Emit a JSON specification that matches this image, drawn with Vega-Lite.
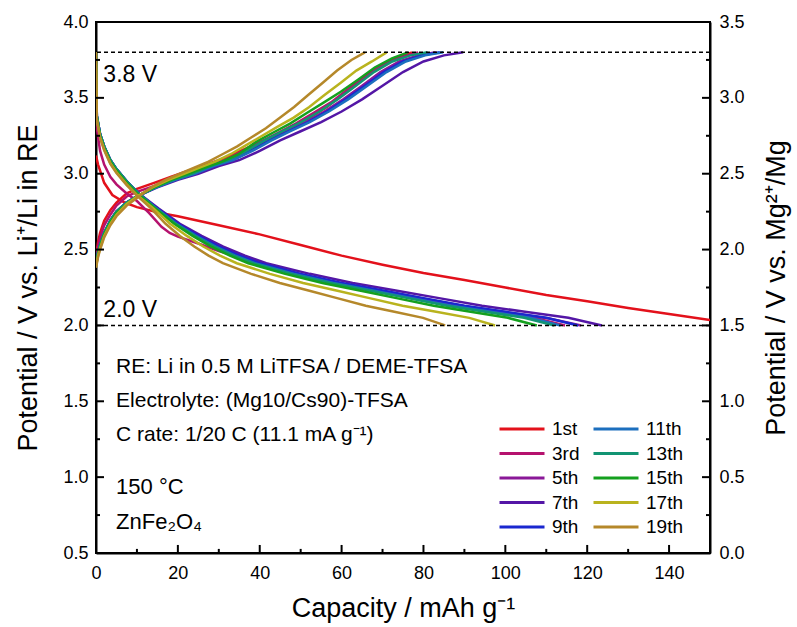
{
 "$schema": "https://vega.github.io/schema/vega-lite/v6.json",
 "width": 614,
 "height": 531,
 "autosize": {"type": "none"},
 "padding": {"left": 96, "top": 22, "right": 87, "bottom": 74},
 "background": "white",
 "config": {
  "view": {"stroke": "black", "strokeWidth": 2},
  "font": "Liberation Sans",
  "axis": {
   "grid": false,
   "ticks": false,
   "domainColor": "black",
   "domainWidth": 2,
   "labelFont": "Liberation Sans",
   "labelFontSize": 18,
   "labelColor": "black",
   "labelOverlap": false,
   "labelFlush": false,
   "titleFont": "Liberation Sans",
   "titleFontSize": 27,
   "titleFontWeight": "normal",
   "titleColor": "black"
  },
  "legend": {
   "orient": "none",
   "legendX": 402,
   "legendY": 397,
   "columns": 2,
   "symbolType": "stroke",
   "symbolSize": 2025,
   "symbolStrokeWidth": 3,
   "clipHeight": 20,
   "labelFont": "Liberation Sans",
   "labelFontSize": 19,
   "labelColor": "black",
   "labelOffset": 6,
   "columnPadding": 12,
   "rowPadding": 4.5
  }
 },
 "layer": [
  {
   "layer": [
    {
     "data": {"values": [
      {"c":"1st","t":"d","x":0,"y":3.12},{"c":"1st","t":"d","x":0.5,"y":3.06},{"c":"1st","t":"d","x":1,"y":3.02},{"c":"1st","t":"d","x":2,"y":2.94},{"c":"1st","t":"d","x":4,"y":2.86},{"c":"1st","t":"d","x":7,"y":2.81},{"c":"1st","t":"d","x":10,"y":2.78},{"c":"1st","t":"d","x":16,"y":2.74},{"c":"1st","t":"d","x":20,"y":2.72},{"c":"1st","t":"d","x":30,"y":2.66},{"c":"1st","t":"d","x":40,"y":2.6},{"c":"1st","t":"d","x":50,"y":2.53},{"c":"1st","t":"d","x":60,"y":2.46},{"c":"1st","t":"d","x":70,"y":2.4},{"c":"1st","t":"d","x":80,"y":2.345},{"c":"1st","t":"d","x":90,"y":2.3},{"c":"1st","t":"d","x":100,"y":2.25},{"c":"1st","t":"d","x":110,"y":2.2},{"c":"1st","t":"d","x":120,"y":2.16},{"c":"1st","t":"d","x":130,"y":2.115},{"c":"1st","t":"d","x":140,"y":2.075},{"c":"1st","t":"d","x":150,"y":2.035},
      {"c":"1st","t":"c","x":0,"y":2.45},{"c":"1st","t":"c","x":0.5,"y":2.55},{"c":"1st","t":"c","x":1,"y":2.61},{"c":"1st","t":"c","x":2,"y":2.69},{"c":"1st","t":"c","x":3.5,"y":2.76},{"c":"1st","t":"c","x":5,"y":2.81},{"c":"1st","t":"c","x":7.5,"y":2.87},{"c":"1st","t":"c","x":10,"y":2.9},{"c":"1st","t":"c","x":14.2,"y":2.94},{"c":"1st","t":"c","x":18.4,"y":2.98},{"c":"1st","t":"c","x":22.6,"y":3.02},{"c":"1st","t":"c","x":26.9,"y":3.06},{"c":"1st","t":"c","x":31.1,"y":3.1},{"c":"1st","t":"c","x":35.3,"y":3.15},{"c":"1st","t":"c","x":39.5,"y":3.2},{"c":"1st","t":"c","x":43.7,"y":3.25},{"c":"1st","t":"c","x":47.9,"y":3.31},{"c":"1st","t":"c","x":52.2,"y":3.37},{"c":"1st","t":"c","x":56.4,"y":3.44},{"c":"1st","t":"c","x":60.6,"y":3.53},{"c":"1st","t":"c","x":64.8,"y":3.62},{"c":"1st","t":"c","x":69.0,"y":3.7},{"c":"1st","t":"c","x":73.2,"y":3.76},{"c":"1st","t":"c","x":77.2,"y":3.8},
      {"c":"3rd","t":"d","x":0,"y":3.8},{"c":"3rd","t":"d","x":0.2,"y":3.3},{"c":"3rd","t":"d","x":1,"y":3.15},{"c":"3rd","t":"d","x":2,"y":3.06},{"c":"3rd","t":"d","x":3.5,"y":2.98},{"c":"3rd","t":"d","x":5,"y":2.93},{"c":"3rd","t":"d","x":7.5,"y":2.87},{"c":"3rd","t":"d","x":10,"y":2.82},{"c":"3rd","t":"d","x":13,"y":2.74},{"c":"3rd","t":"d","x":16,"y":2.65},{"c":"3rd","t":"d","x":18,"y":2.61},{"c":"3rd","t":"d","x":20,"y":2.585},{"c":"3rd","t":"d","x":25,"y":2.54},{"c":"3rd","t":"d","x":30,"y":2.49},{"c":"3rd","t":"d","x":35,"y":2.45},{"c":"3rd","t":"d","x":40,"y":2.4},{"c":"3rd","t":"d","x":48.8,"y":2.34},{"c":"3rd","t":"d","x":58.5,"y":2.28},{"c":"3rd","t":"d","x":68.2,"y":2.23},{"c":"3rd","t":"d","x":77.9,"y":2.18},{"c":"3rd","t":"d","x":87.6,"y":2.13},{"c":"3rd","t":"d","x":97.3,"y":2.09},{"c":"3rd","t":"d","x":107.0,"y":2.05},{"c":"3rd","t":"d","x":114.6,"y":2.0},
      {"c":"3rd","t":"c","x":0,"y":2.43},{"c":"3rd","t":"c","x":0.5,"y":2.52},{"c":"3rd","t":"c","x":1,"y":2.58},{"c":"3rd","t":"c","x":2,"y":2.66},{"c":"3rd","t":"c","x":3.5,"y":2.73},{"c":"3rd","t":"c","x":5,"y":2.79},{"c":"3rd","t":"c","x":7.5,"y":2.85},{"c":"3rd","t":"c","x":10,"y":2.88},{"c":"3rd","t":"c","x":14.3,"y":2.92},{"c":"3rd","t":"c","x":18.6,"y":2.97},{"c":"3rd","t":"c","x":22.9,"y":3.01},{"c":"3rd","t":"c","x":27.2,"y":3.05},{"c":"3rd","t":"c","x":31.6,"y":3.09},{"c":"3rd","t":"c","x":35.9,"y":3.15},{"c":"3rd","t":"c","x":40.2,"y":3.21},{"c":"3rd","t":"c","x":44.5,"y":3.27},{"c":"3rd","t":"c","x":48.8,"y":3.33},{"c":"3rd","t":"c","x":53.1,"y":3.4},{"c":"3rd","t":"c","x":57.4,"y":3.47},{"c":"3rd","t":"c","x":61.7,"y":3.56},{"c":"3rd","t":"c","x":66.0,"y":3.65},{"c":"3rd","t":"c","x":70.3,"y":3.72},{"c":"3rd","t":"c","x":74.7,"y":3.77},{"c":"3rd","t":"c","x":78.7,"y":3.8},
      {"c":"5th","t":"d","x":0,"y":3.8},{"c":"5th","t":"d","x":0.2,"y":3.38},{"c":"5th","t":"d","x":1,"y":3.26},{"c":"5th","t":"d","x":2,"y":3.18},{"c":"5th","t":"d","x":3.5,"y":3.09},{"c":"5th","t":"d","x":5,"y":3.03},{"c":"5th","t":"d","x":7.5,"y":2.95},{"c":"5th","t":"d","x":10,"y":2.88},{"c":"5th","t":"d","x":15.0,"y":2.77},{"c":"5th","t":"d","x":20.1,"y":2.67},{"c":"5th","t":"d","x":25.1,"y":2.59},{"c":"5th","t":"d","x":30.1,"y":2.52},{"c":"5th","t":"d","x":35.2,"y":2.46},{"c":"5th","t":"d","x":40.2,"y":2.41},{"c":"5th","t":"d","x":50.3,"y":2.335},{"c":"5th","t":"d","x":60.3,"y":2.275},{"c":"5th","t":"d","x":70.4,"y":2.225},{"c":"5th","t":"d","x":80.5,"y":2.175},{"c":"5th","t":"d","x":90.5,"y":2.125},{"c":"5th","t":"d","x":100.6,"y":2.085},{"c":"5th","t":"d","x":110.7,"y":2.045},{"c":"5th","t":"d","x":118.5,"y":2.0},
      {"c":"5th","t":"c","x":0,"y":2.4},{"c":"5th","t":"c","x":0.5,"y":2.48},{"c":"5th","t":"c","x":1,"y":2.53},{"c":"5th","t":"c","x":2,"y":2.61},{"c":"5th","t":"c","x":3.5,"y":2.69},{"c":"5th","t":"c","x":5,"y":2.75},{"c":"5th","t":"c","x":7.5,"y":2.81},{"c":"5th","t":"c","x":10,"y":2.85},{"c":"5th","t":"c","x":14.6,"y":2.91},{"c":"5th","t":"c","x":19.2,"y":2.96},{"c":"5th","t":"c","x":23.7,"y":3.0},{"c":"5th","t":"c","x":28.3,"y":3.05},{"c":"5th","t":"c","x":32.9,"y":3.09},{"c":"5th","t":"c","x":37.5,"y":3.15},{"c":"5th","t":"c","x":42.1,"y":3.22},{"c":"5th","t":"c","x":46.6,"y":3.28},{"c":"5th","t":"c","x":51.2,"y":3.34},{"c":"5th","t":"c","x":55.8,"y":3.41},{"c":"5th","t":"c","x":60.4,"y":3.49},{"c":"5th","t":"c","x":65.0,"y":3.58},{"c":"5th","t":"c","x":69.5,"y":3.67},{"c":"5th","t":"c","x":74.1,"y":3.74},{"c":"5th","t":"c","x":78.7,"y":3.78},{"c":"5th","t":"c","x":83.0,"y":3.8},
      {"c":"7th","t":"d","x":0,"y":3.8},{"c":"7th","t":"d","x":0.2,"y":3.38},{"c":"7th","t":"d","x":1,"y":3.26},{"c":"7th","t":"d","x":2,"y":3.18},{"c":"7th","t":"d","x":3.5,"y":3.09},{"c":"7th","t":"d","x":5,"y":3.03},{"c":"7th","t":"d","x":7.5,"y":2.95},{"c":"7th","t":"d","x":10,"y":2.88},{"c":"7th","t":"d","x":15.3,"y":2.77},{"c":"7th","t":"d","x":20.5,"y":2.67},{"c":"7th","t":"d","x":25.8,"y":2.59},{"c":"7th","t":"d","x":31.1,"y":2.52},{"c":"7th","t":"d","x":36.4,"y":2.46},{"c":"7th","t":"d","x":41.6,"y":2.41},{"c":"7th","t":"d","x":52.2,"y":2.34},{"c":"7th","t":"d","x":62.7,"y":2.28},{"c":"7th","t":"d","x":73.2,"y":2.23},{"c":"7th","t":"d","x":83.8,"y":2.18},{"c":"7th","t":"d","x":94.3,"y":2.13},{"c":"7th","t":"d","x":104.8,"y":2.09},{"c":"7th","t":"d","x":115.4,"y":2.05},{"c":"7th","t":"d","x":123.6,"y":2.0},
      {"c":"7th","t":"c","x":0,"y":2.4},{"c":"7th","t":"c","x":0.5,"y":2.48},{"c":"7th","t":"c","x":1,"y":2.53},{"c":"7th","t":"c","x":2,"y":2.61},{"c":"7th","t":"c","x":3.5,"y":2.69},{"c":"7th","t":"c","x":5,"y":2.75},{"c":"7th","t":"c","x":7.5,"y":2.81},{"c":"7th","t":"c","x":10,"y":2.85},{"c":"7th","t":"c","x":15,"y":2.91},{"c":"7th","t":"c","x":20,"y":2.96},{"c":"7th","t":"c","x":25,"y":3.0},{"c":"7th","t":"c","x":30,"y":3.05},{"c":"7th","t":"c","x":35,"y":3.09},{"c":"7th","t":"c","x":40,"y":3.15},{"c":"7th","t":"c","x":45,"y":3.22},{"c":"7th","t":"c","x":50,"y":3.28},{"c":"7th","t":"c","x":55,"y":3.34},{"c":"7th","t":"c","x":60,"y":3.41},{"c":"7th","t":"c","x":65,"y":3.49},{"c":"7th","t":"c","x":70,"y":3.58},{"c":"7th","t":"c","x":75,"y":3.67},{"c":"7th","t":"c","x":80,"y":3.74},{"c":"7th","t":"c","x":85,"y":3.78},{"c":"7th","t":"c","x":89.7,"y":3.8},
      {"c":"9th","t":"d","x":0,"y":3.8},{"c":"9th","t":"d","x":0.2,"y":3.38},{"c":"9th","t":"d","x":1,"y":3.26},{"c":"9th","t":"d","x":2,"y":3.18},{"c":"9th","t":"d","x":3.5,"y":3.09},{"c":"9th","t":"d","x":5,"y":3.03},{"c":"9th","t":"d","x":7.5,"y":2.95},{"c":"9th","t":"d","x":10,"y":2.88},{"c":"9th","t":"d","x":15,"y":2.77},{"c":"9th","t":"d","x":20,"y":2.67},{"c":"9th","t":"d","x":25,"y":2.59},{"c":"9th","t":"d","x":30,"y":2.52},{"c":"9th","t":"d","x":35,"y":2.46},{"c":"9th","t":"d","x":40,"y":2.41},{"c":"9th","t":"d","x":50,"y":2.34},{"c":"9th","t":"d","x":60,"y":2.28},{"c":"9th","t":"d","x":70,"y":2.23},{"c":"9th","t":"d","x":80,"y":2.18},{"c":"9th","t":"d","x":90,"y":2.13},{"c":"9th","t":"d","x":100,"y":2.09},{"c":"9th","t":"d","x":110,"y":2.05},{"c":"9th","t":"d","x":117.8,"y":2.0},
      {"c":"9th","t":"c","x":0,"y":2.4},{"c":"9th","t":"c","x":0.5,"y":2.48},{"c":"9th","t":"c","x":1,"y":2.53},{"c":"9th","t":"c","x":2,"y":2.61},{"c":"9th","t":"c","x":3.5,"y":2.69},{"c":"9th","t":"c","x":5,"y":2.75},{"c":"9th","t":"c","x":7.5,"y":2.81},{"c":"9th","t":"c","x":10,"y":2.85},{"c":"9th","t":"c","x":14.6,"y":2.91},{"c":"9th","t":"c","x":19.3,"y":2.96},{"c":"9th","t":"c","x":23.9,"y":3.0},{"c":"9th","t":"c","x":28.6,"y":3.05},{"c":"9th","t":"c","x":33.2,"y":3.09},{"c":"9th","t":"c","x":37.8,"y":3.15},{"c":"9th","t":"c","x":42.5,"y":3.22},{"c":"9th","t":"c","x":47.1,"y":3.28},{"c":"9th","t":"c","x":51.8,"y":3.34},{"c":"9th","t":"c","x":56.4,"y":3.41},{"c":"9th","t":"c","x":61.0,"y":3.49},{"c":"9th","t":"c","x":65.7,"y":3.58},{"c":"9th","t":"c","x":70.3,"y":3.67},{"c":"9th","t":"c","x":75.0,"y":3.74},{"c":"9th","t":"c","x":79.6,"y":3.78},{"c":"9th","t":"c","x":84.0,"y":3.8},
      {"c":"11th","t":"d","x":0,"y":3.8},{"c":"11th","t":"d","x":0.2,"y":3.38},{"c":"11th","t":"d","x":1,"y":3.26},{"c":"11th","t":"d","x":2,"y":3.18},{"c":"11th","t":"d","x":3.5,"y":3.09},{"c":"11th","t":"d","x":5,"y":3.03},{"c":"11th","t":"d","x":7.5,"y":2.95},{"c":"11th","t":"d","x":10,"y":2.88},{"c":"11th","t":"d","x":14.8,"y":2.77},{"c":"11th","t":"d","x":19.6,"y":2.67},{"c":"11th","t":"d","x":24.4,"y":2.59},{"c":"11th","t":"d","x":29.2,"y":2.52},{"c":"11th","t":"d","x":34.0,"y":2.46},{"c":"11th","t":"d","x":38.8,"y":2.41},{"c":"11th","t":"d","x":48.4,"y":2.34},{"c":"11th","t":"d","x":58.0,"y":2.28},{"c":"11th","t":"d","x":67.6,"y":2.23},{"c":"11th","t":"d","x":77.2,"y":2.18},{"c":"11th","t":"d","x":86.8,"y":2.13},{"c":"11th","t":"d","x":96.4,"y":2.09},{"c":"11th","t":"d","x":106.0,"y":2.05},{"c":"11th","t":"d","x":113.5,"y":2.0},
      {"c":"11th","t":"c","x":0,"y":2.4},{"c":"11th","t":"c","x":0.5,"y":2.48},{"c":"11th","t":"c","x":1,"y":2.53},{"c":"11th","t":"c","x":2,"y":2.61},{"c":"11th","t":"c","x":3.5,"y":2.69},{"c":"11th","t":"c","x":5,"y":2.75},{"c":"11th","t":"c","x":7.5,"y":2.81},{"c":"11th","t":"c","x":10,"y":2.85},{"c":"11th","t":"c","x":14.7,"y":2.91},{"c":"11th","t":"c","x":19.4,"y":2.96},{"c":"11th","t":"c","x":24.1,"y":3.0},{"c":"11th","t":"c","x":28.8,"y":3.05},{"c":"11th","t":"c","x":33.5,"y":3.09},{"c":"11th","t":"c","x":38.2,"y":3.15},{"c":"11th","t":"c","x":42.9,"y":3.22},{"c":"11th","t":"c","x":47.5,"y":3.28},{"c":"11th","t":"c","x":52.2,"y":3.34},{"c":"11th","t":"c","x":56.9,"y":3.41},{"c":"11th","t":"c","x":61.6,"y":3.49},{"c":"11th","t":"c","x":66.3,"y":3.58},{"c":"11th","t":"c","x":71.0,"y":3.67},{"c":"11th","t":"c","x":75.7,"y":3.74},{"c":"11th","t":"c","x":80.4,"y":3.78},{"c":"11th","t":"c","x":84.8,"y":3.8},
      {"c":"13th","t":"d","x":0,"y":3.8},{"c":"13th","t":"d","x":0.2,"y":3.38},{"c":"13th","t":"d","x":1,"y":3.26},{"c":"13th","t":"d","x":2,"y":3.18},{"c":"13th","t":"d","x":3.5,"y":3.09},{"c":"13th","t":"d","x":5,"y":3.03},{"c":"13th","t":"d","x":7.5,"y":2.95},{"c":"13th","t":"d","x":10,"y":2.88},{"c":"13th","t":"d","x":14.7,"y":2.77},{"c":"13th","t":"d","x":19.5,"y":2.67},{"c":"13th","t":"d","x":24.2,"y":2.59},{"c":"13th","t":"d","x":28.9,"y":2.52},{"c":"13th","t":"d","x":33.7,"y":2.46},{"c":"13th","t":"d","x":38.4,"y":2.41},{"c":"13th","t":"d","x":47.8,"y":2.34},{"c":"13th","t":"d","x":57.3,"y":2.28},{"c":"13th","t":"d","x":66.8,"y":2.23},{"c":"13th","t":"d","x":76.2,"y":2.18},{"c":"13th","t":"d","x":85.7,"y":2.13},{"c":"13th","t":"d","x":95.1,"y":2.09},{"c":"13th","t":"d","x":104.6,"y":2.05},{"c":"13th","t":"d","x":112.0,"y":2.0},
      {"c":"13th","t":"c","x":0,"y":2.4},{"c":"13th","t":"c","x":0.5,"y":2.48},{"c":"13th","t":"c","x":1,"y":2.53},{"c":"13th","t":"c","x":2,"y":2.61},{"c":"13th","t":"c","x":3.5,"y":2.69},{"c":"13th","t":"c","x":5,"y":2.75},{"c":"13th","t":"c","x":7.5,"y":2.81},{"c":"13th","t":"c","x":10,"y":2.85},{"c":"13th","t":"c","x":14.5,"y":2.91},{"c":"13th","t":"c","x":18.9,"y":2.96},{"c":"13th","t":"c","x":23.4,"y":3.0},{"c":"13th","t":"c","x":27.8,"y":3.05},{"c":"13th","t":"c","x":32.3,"y":3.09},{"c":"13th","t":"c","x":36.7,"y":3.15},{"c":"13th","t":"c","x":41.2,"y":3.22},{"c":"13th","t":"c","x":45.6,"y":3.28},{"c":"13th","t":"c","x":50.1,"y":3.34},{"c":"13th","t":"c","x":54.6,"y":3.41},{"c":"13th","t":"c","x":59.0,"y":3.49},{"c":"13th","t":"c","x":63.5,"y":3.58},{"c":"13th","t":"c","x":67.9,"y":3.67},{"c":"13th","t":"c","x":72.4,"y":3.74},{"c":"13th","t":"c","x":76.8,"y":3.78},{"c":"13th","t":"c","x":81.0,"y":3.8},
      {"c":"15th","t":"d","x":0,"y":3.8},{"c":"15th","t":"d","x":0.2,"y":3.37},{"c":"15th","t":"d","x":1,"y":3.25},{"c":"15th","t":"d","x":2,"y":3.17},{"c":"15th","t":"d","x":3.5,"y":3.08},{"c":"15th","t":"d","x":5,"y":3.02},{"c":"15th","t":"d","x":7.5,"y":2.94},{"c":"15th","t":"d","x":10,"y":2.87},{"c":"15th","t":"d","x":14.5,"y":2.77},{"c":"15th","t":"d","x":19.1,"y":2.67},{"c":"15th","t":"d","x":23.6,"y":2.59},{"c":"15th","t":"d","x":28.1,"y":2.52},{"c":"15th","t":"d","x":32.7,"y":2.46},{"c":"15th","t":"d","x":37.2,"y":2.41},{"c":"15th","t":"d","x":46.2,"y":2.34},{"c":"15th","t":"d","x":55.3,"y":2.28},{"c":"15th","t":"d","x":64.4,"y":2.23},{"c":"15th","t":"d","x":73.4,"y":2.18},{"c":"15th","t":"d","x":82.5,"y":2.13},{"c":"15th","t":"d","x":91.5,"y":2.09},{"c":"15th","t":"d","x":100.6,"y":2.05},{"c":"15th","t":"d","x":107.7,"y":2.0},
      {"c":"15th","t":"c","x":0,"y":2.39},{"c":"15th","t":"c","x":0.5,"y":2.47},{"c":"15th","t":"c","x":1,"y":2.52},{"c":"15th","t":"c","x":2,"y":2.6},{"c":"15th","t":"c","x":3.5,"y":2.68},{"c":"15th","t":"c","x":5,"y":2.74},{"c":"15th","t":"c","x":7.5,"y":2.8},{"c":"15th","t":"c","x":10,"y":2.85},{"c":"15th","t":"c","x":14.2,"y":2.91},{"c":"15th","t":"c","x":18.3,"y":2.96},{"c":"15th","t":"c","x":22.5,"y":3.0},{"c":"15th","t":"c","x":26.6,"y":3.04},{"c":"15th","t":"c","x":30.8,"y":3.08},{"c":"15th","t":"c","x":34.9,"y":3.13},{"c":"15th","t":"c","x":39.1,"y":3.21},{"c":"15th","t":"c","x":43.2,"y":3.27},{"c":"15th","t":"c","x":47.4,"y":3.33},{"c":"15th","t":"c","x":51.5,"y":3.4},{"c":"15th","t":"c","x":55.7,"y":3.47},{"c":"15th","t":"c","x":59.8,"y":3.54},{"c":"15th","t":"c","x":64.0,"y":3.62},{"c":"15th","t":"c","x":68.1,"y":3.7},{"c":"15th","t":"c","x":72.3,"y":3.76},{"c":"15th","t":"c","x":76.2,"y":3.8},
      {"c":"17th","t":"d","x":0,"y":3.8},{"c":"17th","t":"d","x":0.2,"y":3.36},{"c":"17th","t":"d","x":1,"y":3.24},{"c":"17th","t":"d","x":2,"y":3.16},{"c":"17th","t":"d","x":3.5,"y":3.07},{"c":"17th","t":"d","x":5,"y":3.01},{"c":"17th","t":"d","x":7.5,"y":2.93},{"c":"17th","t":"d","x":10,"y":2.86},{"c":"17th","t":"d","x":14.1,"y":2.77},{"c":"17th","t":"d","x":18.1,"y":2.67},{"c":"17th","t":"d","x":22.2,"y":2.59},{"c":"17th","t":"d","x":26.2,"y":2.52},{"c":"17th","t":"d","x":30.3,"y":2.46},{"c":"17th","t":"d","x":34.4,"y":2.41},{"c":"17th","t":"d","x":42.5,"y":2.34},{"c":"17th","t":"d","x":50.6,"y":2.28},{"c":"17th","t":"d","x":58.7,"y":2.23},{"c":"17th","t":"d","x":66.8,"y":2.18},{"c":"17th","t":"d","x":74.9,"y":2.13},{"c":"17th","t":"d","x":83.1,"y":2.09},{"c":"17th","t":"d","x":91.2,"y":2.05},{"c":"17th","t":"d","x":97.5,"y":2.0},
      {"c":"17th","t":"c","x":0,"y":2.39},{"c":"17th","t":"c","x":0.5,"y":2.46},{"c":"17th","t":"c","x":1,"y":2.51},{"c":"17th","t":"c","x":2,"y":2.59},{"c":"17th","t":"c","x":3.5,"y":2.67},{"c":"17th","t":"c","x":5,"y":2.73},{"c":"17th","t":"c","x":7.5,"y":2.8},{"c":"17th","t":"c","x":10,"y":2.85},{"c":"17th","t":"c","x":13.8,"y":2.91},{"c":"17th","t":"c","x":17.7,"y":2.96},{"c":"17th","t":"c","x":21.5,"y":3.0},{"c":"17th","t":"c","x":25.3,"y":3.04},{"c":"17th","t":"c","x":29.1,"y":3.08},{"c":"17th","t":"c","x":33.0,"y":3.13},{"c":"17th","t":"c","x":36.8,"y":3.19},{"c":"17th","t":"c","x":40.6,"y":3.25},{"c":"17th","t":"c","x":44.4,"y":3.31},{"c":"17th","t":"c","x":48.3,"y":3.37},{"c":"17th","t":"c","x":52.1,"y":3.44},{"c":"17th","t":"c","x":55.9,"y":3.52},{"c":"17th","t":"c","x":59.8,"y":3.6},{"c":"17th","t":"c","x":63.6,"y":3.68},{"c":"17th","t":"c","x":67.4,"y":3.74},{"c":"17th","t":"c","x":71.0,"y":3.8},
      {"c":"19th","t":"d","x":0,"y":3.8},{"c":"19th","t":"d","x":0.2,"y":3.355},{"c":"19th","t":"d","x":1,"y":3.235},{"c":"19th","t":"d","x":2,"y":3.155},{"c":"19th","t":"d","x":3.5,"y":3.065},{"c":"19th","t":"d","x":5,"y":3.005},{"c":"19th","t":"d","x":7.5,"y":2.925},{"c":"19th","t":"d","x":10,"y":2.855},{"c":"19th","t":"d","x":13.5,"y":2.77},{"c":"19th","t":"d","x":17.0,"y":2.67},{"c":"19th","t":"d","x":20.5,"y":2.59},{"c":"19th","t":"d","x":24.0,"y":2.52},{"c":"19th","t":"d","x":27.5,"y":2.46},{"c":"19th","t":"d","x":31.0,"y":2.41},{"c":"19th","t":"d","x":37.9,"y":2.34},{"c":"19th","t":"d","x":44.9,"y":2.28},{"c":"19th","t":"d","x":51.9,"y":2.23},{"c":"19th","t":"d","x":58.9,"y":2.18},{"c":"19th","t":"d","x":65.9,"y":2.13},{"c":"19th","t":"d","x":72.9,"y":2.09},{"c":"19th","t":"d","x":79.9,"y":2.05},{"c":"19th","t":"d","x":85.3,"y":2.0},
      {"c":"19th","t":"c","x":0,"y":2.38},{"c":"19th","t":"c","x":0.5,"y":2.45},{"c":"19th","t":"c","x":1,"y":2.5},{"c":"19th","t":"c","x":2,"y":2.58},{"c":"19th","t":"c","x":3.5,"y":2.66},{"c":"19th","t":"c","x":5,"y":2.72},{"c":"19th","t":"c","x":7.5,"y":2.79},{"c":"19th","t":"c","x":10,"y":2.84},{"c":"19th","t":"c","x":13.5,"y":2.91},{"c":"19th","t":"c","x":17.0,"y":2.96},{"c":"19th","t":"c","x":20.5,"y":3.0},{"c":"19th","t":"c","x":24.0,"y":3.04},{"c":"19th","t":"c","x":27.5,"y":3.08},{"c":"19th","t":"c","x":31.0,"y":3.13},{"c":"19th","t":"c","x":34.5,"y":3.18},{"c":"19th","t":"c","x":38.0,"y":3.24},{"c":"19th","t":"c","x":41.5,"y":3.3},{"c":"19th","t":"c","x":45.0,"y":3.37},{"c":"19th","t":"c","x":48.4,"y":3.44},{"c":"19th","t":"c","x":51.9,"y":3.52},{"c":"19th","t":"c","x":55.4,"y":3.6},{"c":"19th","t":"c","x":58.9,"y":3.68},{"c":"19th","t":"c","x":62.4,"y":3.75},{"c":"19th","t":"c","x":65.7,"y":3.8}
     ]},
     "mark": {"type": "line", "strokeWidth": 2.5, "clip": true},
     "encoding": {
      "x": {"field": "x", "type": "quantitative",
       "scale": {"domain": [0, 150], "nice": false, "zero": false},
       "axis": {"values": [0,20,40,60,80,100,120,140],
        "labelPadding": 11,
        "title": "Capacity / mAh g⁻¹", "titleY": 55, "titleBaseline": "middle"}},
      "y": {"field": "y", "type": "quantitative",
       "scale": {"domain": [0.5, 4.0], "nice": false, "zero": false},
       "axis": {"values": [0.5,1,1.5,2,2.5,3,3.5,4],
        "format": ".1f",
        "labelPadding": 8,
        "title": "Potential / V vs. Li⁺/Li in RE", "titleX": -68, "titleY": 265.5, "titleAngle": 270, "titleAlign": "center", "titleBaseline": "middle"}},
      "color": {"field": "c", "type": "nominal",
       "scale": {"domain": ["1st","3rd","5th","7th","9th","11th","13th","15th","17th","19th"],
        "range": ["#e3111b","#b5126e","#8a1898","#5416a6","#1a27cf","#1c6fbe","#129473","#14a01e","#b9b31e","#b5882a"]},
       "legend": {"title": null}},
      "detail": {"field": "t"}
     }
    },
    {"data": {"values": [{"v":20},{"v":40},{"v":60},{"v":80},{"v":100},{"v":120},{"v":140}]}, "mark": {"type": "rule", "strokeWidth": 2, "color": "black"}, "encoding": {"x": {"field": "v", "type": "quantitative"}, "y": {"datum": 0.5, "type": "quantitative"}, "y2": {"datum": 0.553}}},
    {"data": {"values": [{"v":10},{"v":30},{"v":50},{"v":70},{"v":90},{"v":110},{"v":130}]}, "mark": {"type": "rule", "strokeWidth": 2, "color": "black"}, "encoding": {"x": {"field": "v", "type": "quantitative"}, "y": {"datum": 0.5, "type": "quantitative"}, "y2": {"datum": 0.527}}},
    {"data": {"values": [{"v":1},{"v":1.5},{"v":2},{"v":2.5},{"v":3},{"v":3.5}]}, "mark": {"type": "rule", "strokeWidth": 2, "color": "black"}, "encoding": {"y": {"field": "v", "type": "quantitative"}, "x": {"datum": 0, "type": "quantitative"}, "x2": {"datum": 1.95}}},
    {"data": {"values": [{"v":1},{"v":1.5},{"v":2},{"v":2.5},{"v":3},{"v":3.5}]}, "mark": {"type": "rule", "strokeWidth": 2, "color": "black"}, "encoding": {"y": {"field": "v", "type": "quantitative"}, "x": {"datum": 150, "type": "quantitative"}, "x2": {"datum": 148.05}}},
    {"data": {"values": [{"v":0.75},{"v":1.25},{"v":1.75},{"v":2.25},{"v":2.75},{"v":3.25},{"v":3.75}]}, "mark": {"type": "rule", "strokeWidth": 2, "color": "black"}, "encoding": {"y": {"field": "v", "type": "quantitative"}, "x": {"datum": 0, "type": "quantitative"}, "x2": {"datum": 0.98}}},
    {"data": {"values": [{"v":0.75},{"v":1.25},{"v":1.75},{"v":2.25},{"v":2.75},{"v":3.25},{"v":3.75}]}, "mark": {"type": "rule", "strokeWidth": 2, "color": "black"}, "encoding": {"y": {"field": "v", "type": "quantitative"}, "x": {"datum": 150, "type": "quantitative"}, "x2": {"datum": 149.02}}},
    {"data": {"values": [{}]}, "mark": {"type": "rule", "strokeDash": [4, 3], "strokeWidth": 1.5, "color": "black"}, "encoding": {"y": {"datum": 3.8, "type": "quantitative"}}},
    {"data": {"values": [{}]}, "mark": {"type": "rule", "strokeDash": [4, 3], "strokeWidth": 1.5, "color": "black"}, "encoding": {"y": {"datum": 2.0, "type": "quantitative"}}},
    {"data": {"values": [{}]}, "mark": {"type": "text", "text": "3.8 V", "align": "left", "baseline": "middle", "fontSize": 23, "font": "Liberation Sans", "color": "black"}, "encoding": {"x": {"datum": 1.8, "type": "quantitative"}, "y": {"datum": 3.65, "type": "quantitative"}}},
    {"data": {"values": [{}]}, "mark": {"type": "text", "text": "2.0 V", "align": "left", "baseline": "middle", "fontSize": 23, "font": "Liberation Sans", "color": "black"}, "encoding": {"x": {"datum": 1.8, "type": "quantitative"}, "y": {"datum": 2.1, "type": "quantitative"}}},
    {"data": {"values": [{}]}, "mark": {"type": "text", "text": "RE: Li in 0.5 M LiTFSA / DEME-TFSA", "align": "left", "baseline": "middle", "fontSize": 21, "font": "Liberation Sans", "color": "black"}, "encoding": {"x": {"datum": 4.9, "type": "quantitative"}, "y": {"datum": 1.726, "type": "quantitative"}}},
    {"data": {"values": [{}]}, "mark": {"type": "text", "text": "Electrolyte: (Mg10/Cs90)-TFSA", "align": "left", "baseline": "middle", "fontSize": 21, "font": "Liberation Sans", "color": "black"}, "encoding": {"x": {"datum": 4.9, "type": "quantitative"}, "y": {"datum": 1.502, "type": "quantitative"}}},
    {"data": {"values": [{}]}, "mark": {"type": "text", "text": "C rate: 1/20 C (11.1 mA g⁻¹)", "align": "left", "baseline": "middle", "fontSize": 21, "font": "Liberation Sans", "color": "black"}, "encoding": {"x": {"datum": 4.9, "type": "quantitative"}, "y": {"datum": 1.277, "type": "quantitative"}}},
    {"data": {"values": [{}]}, "mark": {"type": "text", "text": "150 °C", "align": "left", "baseline": "middle", "fontSize": 22, "font": "Liberation Sans", "color": "black"}, "encoding": {"x": {"datum": 4.9, "type": "quantitative"}, "y": {"datum": 0.935, "type": "quantitative"}}},
    {"data": {"values": [{}]}, "mark": {"type": "text", "text": "ZnFe₂O₄", "align": "left", "baseline": "middle", "fontSize": 22, "font": "Liberation Sans", "color": "black"}, "encoding": {"x": {"datum": 4.9, "type": "quantitative"}, "y": {"datum": 0.704, "type": "quantitative"}}}
   ]
  },
  {
   "data": {"values": [{"m": 0}, {"m": 3.5}]},
   "mark": {"type": "point", "opacity": 0},
   "encoding": {
    "y": {"field": "m", "type": "quantitative",
     "scale": {"domain": [0, 3.5], "nice": false, "zero": false},
     "axis": {"orient": "right",
      "values": [0,0.5,1,1.5,2,2.5,3,3.5],
      "format": ".1f",
      "labelPadding": 9,
      "title": "Potential / V vs. Mg²⁺/Mg", "titleX": 66, "titleY": 265.5, "titleAngle": 270, "titleAlign": "center", "titleBaseline": "middle"}}
   }
  }
 ],
 "resolve": {"scale": {"y": "independent"}, "axis": {"y": "independent"}}
}
